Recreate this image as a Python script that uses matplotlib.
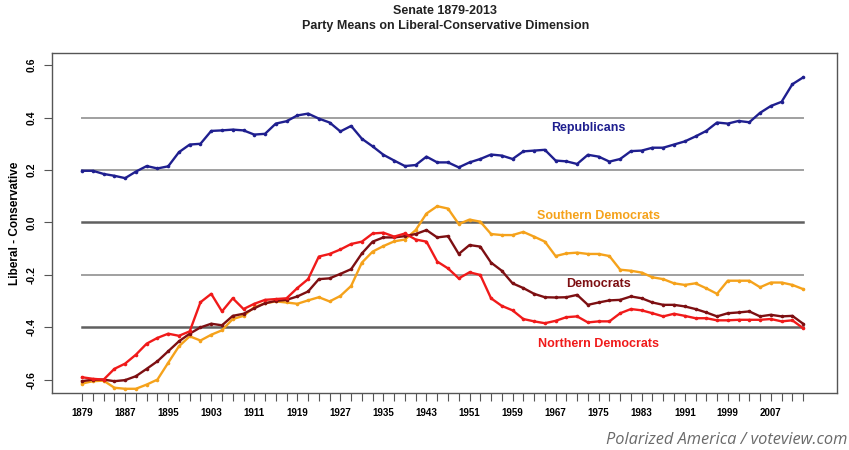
import numpy as np
import matplotlib
matplotlib.use('Agg')
import matplotlib.pyplot as plt
from matplotlib.ticker import MultipleLocator

plt.rcParams['font.family'] = ['Liberation Sans', 'DejaVu Sans']

# Congress start years (one point per congress)
years = list(range(1879, 2014, 2))

republicans = [
    0.197, 0.197, 0.185, 0.178, 0.169, 0.194, 0.215, 0.206, 0.214, 0.268,
    0.297, 0.300, 0.349, 0.351, 0.354, 0.351, 0.335, 0.338, 0.377, 0.386,
    0.408, 0.415, 0.396, 0.381, 0.347, 0.368, 0.319, 0.290, 0.258, 0.236,
    0.215, 0.219, 0.251, 0.229, 0.229, 0.210, 0.229, 0.242, 0.259, 0.255,
    0.242, 0.271, 0.274, 0.277, 0.236, 0.233, 0.223, 0.258, 0.251, 0.232,
    0.242, 0.272, 0.274, 0.285, 0.285, 0.297, 0.309, 0.328, 0.349, 0.381,
    0.377, 0.387, 0.382, 0.418, 0.444, 0.460, 0.527, 0.553,
]

democrats = [
    -0.605, -0.599, -0.599, -0.605, -0.601, -0.586, -0.558, -0.529, -0.491, -0.453,
    -0.424, -0.400, -0.386, -0.392, -0.356, -0.348, -0.327, -0.308, -0.299, -0.295,
    -0.282, -0.263, -0.216, -0.213, -0.196, -0.178, -0.118, -0.073, -0.057, -0.057,
    -0.052, -0.044, -0.029, -0.057, -0.052, -0.120, -0.086, -0.092, -0.153, -0.184,
    -0.232, -0.250, -0.272, -0.285, -0.286, -0.285, -0.276, -0.314, -0.305, -0.297,
    -0.295, -0.282, -0.289, -0.305, -0.314, -0.314, -0.320, -0.330, -0.343, -0.358,
    -0.346, -0.343, -0.339, -0.358, -0.352, -0.358, -0.356, -0.386,
]

southern_dems = [
    -0.614, -0.605, -0.603, -0.630, -0.634, -0.634, -0.618, -0.599, -0.535, -0.472,
    -0.434, -0.450, -0.428, -0.411, -0.368, -0.356, -0.323, -0.308, -0.301, -0.305,
    -0.310, -0.297, -0.285, -0.301, -0.280, -0.242, -0.153, -0.111, -0.090, -0.072,
    -0.065, -0.029, 0.034, 0.062, 0.053, -0.006, 0.011, 0.003, -0.044, -0.048,
    -0.048, -0.036, -0.054, -0.073, -0.128, -0.118, -0.115, -0.120, -0.120, -0.128,
    -0.180, -0.184, -0.191, -0.209, -0.216, -0.232, -0.238, -0.232, -0.251, -0.272,
    -0.222, -0.222, -0.222, -0.247, -0.229, -0.229, -0.238, -0.254,
]

northern_dems = [
    -0.590, -0.596, -0.599, -0.558, -0.538, -0.504, -0.462, -0.440, -0.424, -0.432,
    -0.415, -0.304, -0.272, -0.339, -0.289, -0.330, -0.310, -0.295, -0.292, -0.289,
    -0.250, -0.216, -0.130, -0.120, -0.103, -0.082, -0.073, -0.042, -0.039, -0.054,
    -0.042, -0.065, -0.073, -0.149, -0.175, -0.213, -0.190, -0.200, -0.289, -0.318,
    -0.335, -0.368, -0.377, -0.384, -0.375, -0.361, -0.358, -0.381, -0.377, -0.377,
    -0.346, -0.330, -0.335, -0.346, -0.358, -0.348, -0.356, -0.365, -0.365, -0.373,
    -0.373, -0.371, -0.371, -0.371, -0.368, -0.377, -0.373, -0.403,
]

label_years = list(range(1879, 2008, 8))
grid_light = [0.4, 0.2, -0.2]
grid_dark = [0.0, -0.4]

fig = plt.figure(figsize=(8.49, 4.5), dpi=100)
ax = fig.add_axes([0.0612, 0.1267, 0.9247, 0.7555])

# reference lines span only the data range
for yv in grid_light:
    ax.plot([years[0], years[-1]], [yv, yv], color='#a0a0a0', lw=1.4, zorder=1)
for yv in grid_dark:
    ax.plot([years[0], years[-1]], [yv, yv], color='#606060', lw=1.8, zorder=1)

series = [
    (republicans, '#1f1f8f'),
    (southern_dems, '#f5a21b'),
    (democrats, '#7d0f12'),
    (northern_dems, '#f01a1a'),
]
for vals, col in series:
    ax.plot(years, vals, color=col, lw=1.7, marker='o', markersize=2.6,
            markeredgewidth=0, zorder=3)

lab_kw = dict(fontsize=9, fontweight='bold', ha='center', va='center')
ax.text(1973, 0.359, 'Republicans', color='#1f1f8f', **lab_kw)
ax.text(1975, 0.023, 'Southern Democrats', color='#f5a21b', **lab_kw)
ax.text(1975, -0.233, 'Democrats', color='#7d0f12', **lab_kw)
ax.text(1975, -0.462, 'Northern Democrats', color='#f01a1a', **lab_kw)

ax.set_xlim(1873.4, 2019.3)
ax.set_ylim(-0.65, 0.646)

ax.set_xticks(label_years)
ax.set_xticklabels([str(y) for y in label_years], fontsize=7, fontweight='bold')
ax.set_xticks(years, minor=True)
ax.tick_params(axis='x', which='both', length=6, width=0.8, color='#555555',
               direction='out', pad=5)

ax.set_yticks([0.6, 0.4, 0.2, 0.0, -0.2, -0.4, -0.6])
ax.set_yticklabels(['0.6', '0.4', '0.2', '0.0', '-0.2', '-0.4', '-0.6'],
                   rotation=90, va='center', fontsize=7.5, fontweight='bold')
ax.tick_params(axis='y', length=6, width=0.8, color='#555555', pad=5)

for sp in ax.spines.values():
    sp.set_color('#555555')
    sp.set_linewidth(1.0)

ax.set_ylabel('Liberal - Conservative', fontsize=8.5, fontweight='bold', labelpad=4)

fig.text(0.5247, 1 - 11 / 450, 'Senate 1879-2013', ha='center', va='center',
         fontsize=9, fontweight='bold', color='#222222')
fig.text(0.5247, 1 - 26 / 450, 'Party Means on Liberal-Conservative Dimension',
         ha='center', va='center', fontsize=9, fontweight='bold', color='#222222')

fig.text(0.998, 1 - 440 / 450, 'Polarized America / voteview.com', ha='right',
         va='center', fontsize=11.8, style='italic', color='#6a6a6a',
         family=['Open Sans', 'DejaVu Sans'])

fig.savefig('out.png', dpi=100)
